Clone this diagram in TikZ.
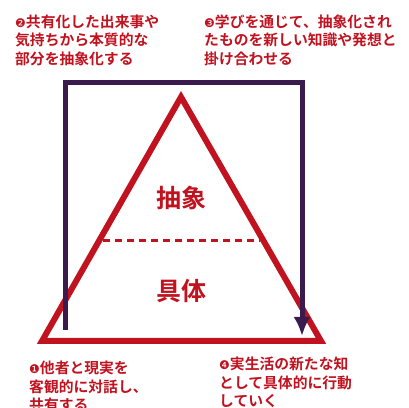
\documentclass[tikz,border=0pt]{standalone}
\usepackage{fontspec}
\usetikzlibrary{arrows.meta}
\newfontfamily\jpfont{Noto Sans CJK JP Bold}
\newfontfamily\numfont{DejaVu Sans}
\definecolor{trired}{HTML}{C0121F}
\definecolor{pathpurple}{HTML}{3B1B4D}
\begin{document}
\begin{tikzpicture}[>={Latex[length=19bp,width=17bp]},line join=miter,
  step_text/.style={anchor=base west,inner sep=0pt,align=left,text=trired,
    font=\jpfont\fontsize{14.8bp}{18.5bp}\selectfont},
  level_text/.style={inner sep=0pt,text=trired,
    font=\jpfont\fontsize{25bp}{25bp}\selectfont}]
\useasboundingbox (0bp,0bp) rectangle (409bp,408bp);
%%
\coordinate (tri_top) at (181bp,311bp);
\coordinate (tri_left) at (42bp,67bp);
\coordinate (tri_right) at (321bp,67bp);
\coordinate (cut_left) at (103bp,167bp);
\coordinate (cut_right) at (260bp,167bp);
\draw [trired,line width=6bp] (tri_top) -- (tri_left) -- (tri_right) -- cycle;
\draw [trired,line width=3bp,dash pattern=on 7bp off 5bp] (cut_left) -- (cut_right);
%
\node (node_abs) at (181bp,210bp) [level_text] {抽象};
\node (node_con) at (181bp,117bp) [level_text] {具体};
%
\node (node_1) at (29bp,-2.5bp) [step_text] {{\numfont\fontsize{12bp}{12bp}\selectfont ❶}他者と現実を\\客観的に対話し、\\共有する};
\node (node_2) at (15bp,343.5bp) [step_text] {{\numfont\fontsize{12bp}{12bp}\selectfont ❷}共有化した出来事や\\気持ちから本質的な\\部分を抽象化する};
\node (node_3) at (204bp,343.5bp) [step_text] {{\numfont\fontsize{12bp}{12bp}\selectfont ❸}学びを通じて、抽象化され\\たものを新しい知識や発想と\\掛け合わせる};
\node (node_4) at (219bp,1.5bp) [step_text] {{\numfont\fontsize{12bp}{12bp}\selectfont ❹}実生活の新たな知\\として具体的に行動\\していく};
%
\coordinate (path_start) at (65bp,78bp);
\coordinate (path_ul) at (65bp,325bp);
\coordinate (path_ur) at (302bp,325bp);
\coordinate (path_end) at (302bp,72bp);
\draw [pathpurple,line width=5bp,->] (path_start) -- (path_ul) -- (path_ur) -- (path_end);
%
\end{tikzpicture}
\end{document}
